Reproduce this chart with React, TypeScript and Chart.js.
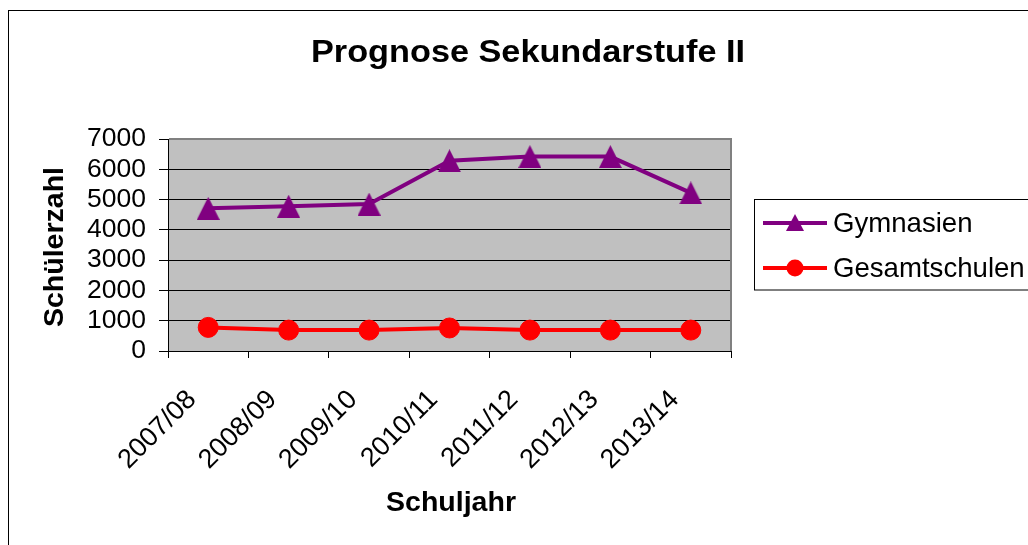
import React, { useEffect, useRef } from "react";
import { Chart, registerables } from "chart.js";

Chart.register(...registerables);

const categories = ["2007/08", "2008/09", "2009/10", "2010/11", "2011/12", "2012/13", "2013/14"];
const gymnasien = [4710, 4780, 4850, 6280, 6420, 6420, 5220];
const gesamtschulen = [780, 690, 690, 760, 690, 690, 690];
const yTickValues = [0, 1000, 2000, 3000, 4000, 5000, 6000, 7000];
const titleText = "Prognose Sekundarstufe II";
const yTitleText = "Schülerzahl";
const xTitleText = "Schuljahr";
const seriesNames = ["Gymnasien", "Gesamtschulen"];

const FONT = "'Liberation Sans', Arial, sans-serif";
const PURPLE = "#800080";
const RED = "#ff0000";

function makeTriangle(w: number, h: number, color: string): HTMLCanvasElement {
  const c = document.createElement("canvas");
  c.width = w;
  c.height = h;
  const g = c.getContext("2d")!;
  g.fillStyle = color;
  g.beginPath();
  g.moveTo(w / 2, 0);
  g.lineTo(w, h);
  g.lineTo(0, h);
  g.closePath();
  g.fill();
  return c;
}

function drawFitText(
  ctx: CanvasRenderingContext2D,
  text: string,
  cx: number,
  y: number,
  targetW: number,
  font: string
) {
  ctx.save();
  ctx.font = font;
  ctx.textAlign = "center";
  ctx.textBaseline = "alphabetic";
  const w = ctx.measureText(text).width;
  const sx = targetW / w;
  ctx.translate(cx, y);
  ctx.scale(sx, 1);
  ctx.fillStyle = "#000";
  ctx.fillText(text, 0, 0);
  ctx.restore();
}

export default function App() {
  const ref = useRef<HTMLCanvasElement | null>(null);

  useEffect(() => {
    const canvas = ref.current;
    if (!canvas) return;
    const triBig = makeTriangle(23, 23, PURPLE);
    const triSmall = makeTriangle(18, 17, PURPLE);

    const custom = {
      id: "customDecor",
      beforeDraw(chart: any) {
        const { ctx, chartArea: a } = chart;
        ctx.save();
        ctx.fillStyle = "#ffffff";
        ctx.fillRect(0, 0, chart.width, chart.height);
        ctx.fillStyle = "#c0c0c0";
        ctx.fillRect(a.left, a.top, a.right - a.left, a.bottom - a.top);
        ctx.strokeStyle = "#000";
        ctx.lineWidth = 1;
        ctx.strokeRect(8.5, 10.5, 1200, 700);
        ctx.restore();
      },
      beforeDatasetsDraw(chart: any) {
        const { ctx, chartArea: a } = chart;
        ctx.save();
        ctx.strokeStyle = "#808080";
        ctx.lineWidth = 2;
        ctx.beginPath();
        ctx.moveTo(a.left + 1, a.top);
        ctx.lineTo(a.right, a.top);
        ctx.lineTo(a.right, a.bottom);
        ctx.stroke();
        ctx.restore();
      },
      afterDraw(chart: any) {
        const { ctx } = chart;
        drawFitText(ctx, titleText, 528, 62, 434, `bold 31px ${FONT}`);
        drawFitText(ctx, xTitleText, 451, 511, 130, `bold 28px ${FONT}`);
        ctx.save();
        ctx.translate(63, 247);
        ctx.rotate(-Math.PI / 2);
        drawFitText(ctx, yTitleText, 0, 0, 160, `bold 28px ${FONT}`);
        ctx.restore();
        // Legend
        ctx.save();
        ctx.strokeStyle = "#000";
        ctx.lineWidth = 1;
        ctx.strokeRect(754.5, 199.5, 400, 90.5);
        const items = [
          { name: seriesNames[0], color: PURPLE, y: 223, marker: "tri" },
          { name: seriesNames[1], color: RED, y: 268, marker: "circle" },
        ];
        for (const it of items) {
          ctx.strokeStyle = it.color;
          ctx.lineWidth = 4;
          ctx.beginPath();
          ctx.moveTo(763, it.y);
          ctx.lineTo(827, it.y);
          ctx.stroke();
          if (it.marker === "tri") {
            ctx.drawImage(triSmall, 795 - 9, it.y - 9);
          } else {
            ctx.fillStyle = it.color;
            ctx.beginPath();
            ctx.arc(795, it.y, 8.5, 0, Math.PI * 2);
            ctx.fill();
          }
          ctx.fillStyle = "#000";
          ctx.font = `27.6px ${FONT}`;
          ctx.textAlign = "left";
          ctx.textBaseline = "middle";
          ctx.fillText(it.name, 833, it.y + 1);
        }
        ctx.restore();
      },
    };

    const chart = new Chart(canvas, {
      type: "line",
      data: {
        labels: categories,
        datasets: [
          {
            label: seriesNames[0],
            data: gymnasien,
            borderColor: PURPLE,
            backgroundColor: PURPLE,
            borderWidth: 4,
            pointStyle: triBig as any,
            pointRadius: 12,
            pointHoverRadius: 12,
            tension: 0,
          },
          {
            label: seriesNames[1],
            data: gesamtschulen,
            borderColor: RED,
            backgroundColor: RED,
            pointBorderColor: RED,
            borderWidth: 4,
            pointStyle: "circle",
            pointRadius: 10,
            pointBorderWidth: 1,
            tension: 0,
          },
        ],
      },
      options: {
        responsive: false,
        animation: false,
        devicePixelRatio: 1,
        layout: { padding: { top: 139, right: 297, left: 0, bottom: 0 } },
        plugins: {
          legend: { display: false },
          title: { display: false },
          tooltip: { enabled: false },
        },
        scales: {
          x: {
            type: "category",
            offset: true,
            afterFit(scale: any) {
              scale.height = 194;
            },
            grid: {
              display: true,
              drawOnChartArea: false,
              drawTicks: true,
              tickLength: 7,
              offset: true,
              color: "#000",
              lineWidth: 1,
            },
            border: { display: true, color: "#000", width: 1 },
            ticks: {
              autoSkip: false,
              minRotation: 45,
              maxRotation: 45,
              labelOffset: -16,
              padding: 26,
              color: "#000",
              font: { family: FONT, size: 27 },
            },
          },
          y: {
            min: yTickValues[0],
            max: yTickValues[yTickValues.length - 1],
            afterFit(scale: any) {
              scale.width = 168;
            },
            grid: {
              color: "#000",
              lineWidth: 1,
              tickLength: 9,
              drawTicks: true,
            },
            border: { display: true, color: "#000", width: 1 },
            ticks: {
              stepSize: 1000,
              autoSkip: false,
              padding: 13,
              color: "#000",
              font: { family: FONT, size: 26.5 },
              callback: (v: any) => String(v),
            },
          },
        },
      },
      plugins: [custom],
    });

    return () => chart.destroy();
  }, []);

  return (
    <div style={{ position: "absolute", left: 0, top: 0, width: 1028, height: 545, background: "#fff" }}>
      <canvas ref={ref} width={1028} height={545} style={{ display: "block", width: 1028, height: 545 }} />
    </div>
  );
}
